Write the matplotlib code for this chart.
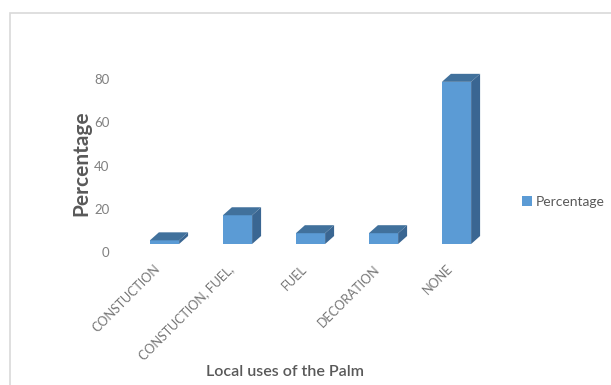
import matplotlib.pyplot as plt
from matplotlib.patches import Polygon, Rectangle
from matplotlib.transforms import ScaledTranslation

plt.rcParams['font.family'] = ['Lato', 'DejaVu Sans']

categories = ['CONSTUCTION', 'CONSTUCTION, FUEL,', 'FUEL', 'DECORATION', 'NONE']
percentage = [1.7, 13.3, 5.0, 5.0, 75.0]
yticks = [0, 20, 40, 60, 80]

front = '#5b9bd5'
top = '#41719c'
side = '#3a6692'

fig = plt.figure(figsize=(6.11, 3.85), dpi=100)
# light frame like the excel chart area
fig.patches.append(Rectangle((10 / 611, -0.1), 1.2, 1.1 - 13 / 385,
                             transform=fig.transFigure, fill=False,
                             edgecolor='#d9d9d9', linewidth=1.2))

ax = fig.add_axes([0.1856, 0.3662, 0.6452, 0.4774])
x = list(range(len(categories)))
w = 0.4
dx, dy = 0.123, 3.7

ax.bar(x, percentage, width=w, color=front, zorder=3, label='Percentage')
for xi, v in zip(x, percentage):
    l, r = xi - w / 2, xi + w / 2
    ax.add_patch(Polygon([(l, v), (r, v), (r + dx, v + dy), (l + dx, v + dy)],
                         closed=True, facecolor=top, edgecolor='none', zorder=3))
    ax.add_patch(Polygon([(r, 0), (r + dx, dy), (r + dx, v + dy), (r, v)],
                         closed=True, facecolor=side, edgecolor='none', zorder=3))

ax.set_xlim(-0.7, 4.7)
ax.set_ylim(0, 85)
ax.set_yticks(yticks)
ax.set_xticks(x)
ax.set_xticklabels(categories, rotation=45, ha='right', va='center',
                   rotation_mode='anchor', fontsize=9, color='#767676')
ax.tick_params(axis='y', labelsize=9.5, colors='#808080', length=0, pad=3)
ax.tick_params(axis='x', length=0, pad=0)
for lab in ax.get_yticklabels():
    lab.set_transform(lab.get_transform() + ScaledTranslation(0, -0.08, fig.dpi_scale_trans))
for lab in ax.get_xticklabels():
    lab.set_transform(lab.get_transform() + ScaledTranslation(-0.06, -0.23, fig.dpi_scale_trans))
for s in ax.spines.values():
    s.set_visible(False)

ax.set_ylabel('Percentage', fontsize=15, fontweight='bold', color='#595959')
ax.yaxis.set_label_coords(-0.055, 0.44)
fig.text(285 / 611, 1 - 372 / 385, 'Local uses of the Palm', fontsize=11.5,
         fontweight='semibold', color='#595959', ha='center', va='center')

ax.legend(loc='center left', bbox_to_anchor=(1.005, 0.23), frameon=False,
          fontsize=10, labelcolor='#595959', handlelength=0.7, handleheight=0.7,
          handletextpad=0.3)

fig.savefig('out.png', dpi=100)
